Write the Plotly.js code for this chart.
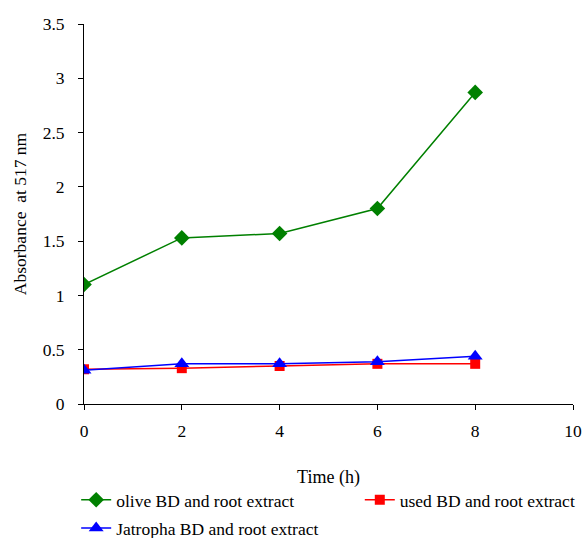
<!DOCTYPE html>
<html>
<head>
<meta charset="utf-8">
<script src="https://cdn.plot.ly/plotly-3.0.1.min.js"></script>
<style>html,body{margin:0;padding:0;background:#fff;}</style>
</head>
<body>
<div id="chart" style="width:587px;height:538px;"></div>
<script>
const time = [0, 2, 4, 6, 8];
const olive = [1.10, 1.53, 1.57, 1.80, 2.87];
const used = [0.32, 0.33, 0.35, 0.37, 0.37];
const jatropha = [0.31, 0.37, 0.37, 0.39, 0.44];
const seriesNames = ["olive BD and root extract", "used BD and root extract", "Jatropha BD and root extract"];

const traces = [
  {x: time, y: olive, name: seriesNames[0], mode: 'lines+markers', legend: 'legend',
   line: {color: '#008000', width: 1.5}, marker: {symbol: 'diamond', size: 12, color: '#008000'}},
  {x: time, y: used, name: seriesNames[1], mode: 'lines+markers', legend: 'legend2',
   line: {color: '#FF0000', width: 1.5}, marker: {symbol: 'square', size: 10, color: '#FF0000'}},
  {x: time, y: jatropha, name: seriesNames[2], mode: 'lines+markers', legend: 'legend3',
   line: {color: '#0000FF', width: 1.5}, marker: {symbol: 'triangle-up', size: 13, color: '#0000FF'}}
];

const legendFont = {size: 17.5};
const legendBase = {orientation: 'v', xanchor: 'left', yanchor: 'top', font: legendFont, bgcolor: 'rgba(0,0,0,0)'};
const layout = {
  width: 587, height: 538,
  margin: {l: 84, r: 14, t: 24, b: 134, autoexpand: false},
  paper_bgcolor: '#fff', plot_bgcolor: '#fff',
  font: {family: 'Liberation Serif, Times New Roman, serif', size: 17.5, color: '#000'},
  showlegend: true,
  legend: Object.assign({}, legendBase, {x: -0.016, y: -0.205}),
  legend2: Object.assign({}, legendBase, {x: 0.564, y: -0.205}),
  legend3: Object.assign({}, legendBase, {x: -0.016, y: -0.279}),
  xaxis: {range: [0, 10], dtick: 2, tick0: 0, showgrid: false, zeroline: false,
          showline: true, linecolor: '#000', linewidth: 1, ticks: 'outside', ticklen: 5, tickcolor: '#000',
          ticklabelstandoff: 6,
          title: {text: 'Time (h)', standoff: 30, font: {size: 18}}},
  yaxis: {range: [0, 3.5], dtick: 0.5, tick0: 0, showgrid: false, zeroline: false,
          showline: true, linecolor: '#000', linewidth: 1, ticks: 'outside', ticklen: 5, tickcolor: '#000',
          ticklabelstandoff: 10,
          title: {text: 'Absorbance  at 517 nm', standoff: 11, font: {size: 17.5}}}
};

Plotly.newPlot('chart', traces, layout, {displayModeBar: false, staticPlot: true});
</script>
</body>
</html>
